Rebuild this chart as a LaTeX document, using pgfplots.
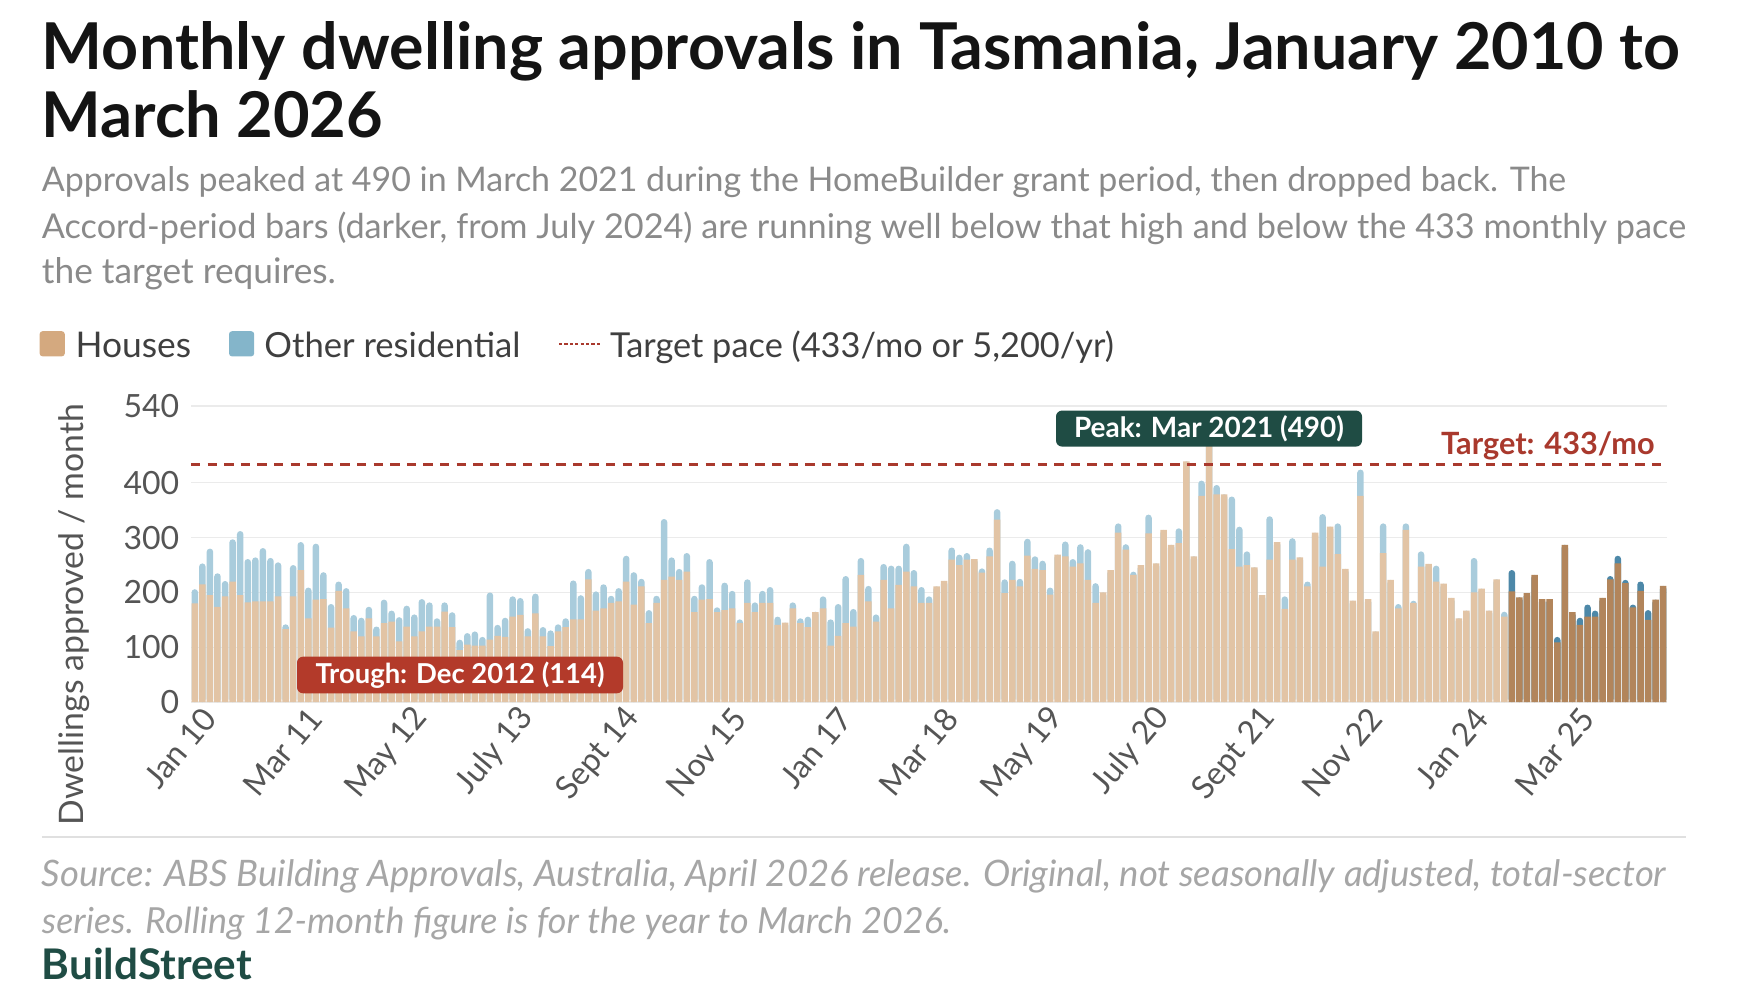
\documentclass[border=0pt]{standalone}
\usepackage{pgfplots}
\pgfplotsset{compat=1.18}
\usepackage{pgfplotstable}
\usepackage{graphicx}
\usepackage{fontspec}
\setmainfont{Lato}
\definecolor{titlec}{HTML}{141414}
\definecolor{subc}{HTML}{8A8A8A}
\definecolor{legc}{HTML}{3F3F3F}
\definecolor{tickc}{HTML}{555555}
\definecolor{gridc}{HTML}{EBEBEB}
\definecolor{houseL}{HTML}{E2C4A5}
\definecolor{otherL}{HTML}{A9CCDC}
\definecolor{houseD}{HTML}{B2855B}
\definecolor{otherD}{HTML}{4D88A8}
\definecolor{houseLeg}{HTML}{D4A97F}
\definecolor{otherLeg}{HTML}{84B5CA}
\definecolor{targetc}{HTML}{A9392D}
\definecolor{troughc}{HTML}{B33A2A}
\definecolor{peakc}{HTML}{1F4C44}
\definecolor{sourcec}{HTML}{A6A6A6}
\definecolor{sepc}{HTML}{E0E0E0}
\newcommand\fit[2]{\resizebox{#1}{!}{#2}}

\pgfplotstableread{
x tot hou
0 206 180
1 253 215
2 280 195
3 235 174
4 221 193
5 297 220
6 312 195
7 261 182
8 264 184
9 281 184
10 263 184
11 255 193
12 142 133
13 250 193
14 292 241
15 209 153
16 289 187
17 237 188
18 179 136
19 220 203
20 208 171
21 159 129
22 154 120
23 174 153
24 138 120
25 187 144
26 167 147
27 155 111
28 176 138
29 160 120
30 188 129
31 182 138
32 153 138
33 182 165
34 164 137
35 114 95
36 126 105
37 129 103
38 119 103
39 200 114
40 141 121
41 154 119
42 193 156
43 190 159
44 135 120
45 198 162
46 137 120
47 131 102
48 142 129
49 153 137
50 222 151
51 195 151
52 243 224
53 202 167
54 215 171
55 194 181
56 208 184
57 267 220
58 237 178
59 225 211
60 168 144
61 194 181
62 334 223
63 264 229
64 243 223
65 272 238
66 194 164
67 215 187
68 261 188
69 173 164
70 218 168
71 203 171
72 151 144
73 224 181
74 182 164
75 203 181
76 210 181
77 156 141
78 145 145
79 182 171
80 153 144
81 156 137
82 165 164
83 193 171
84 151 103
85 179 121
86 230 144
87 170 138
88 263 232
89 212 184
90 160 147
91 252 223
92 249 171
93 249 214
94 289 238
95 241 211
96 210 181
97 193 181
98 211 211
99 221 221
100 282 260
101 269 250
102 272 260
103 261 261
104 244 236
105 282 266
106 352 333
107 224 199
108 258 223
109 225 211
110 298 267
111 266 243
112 258 241
113 209 196
114 269 269
115 293 266
116 261 247
117 288 253
118 279 223
119 217 181
120 200 200
121 241 241
122 326 309
123 288 278
124 238 232
125 250 250
126 342 308
127 253 253
128 314 314
129 287 287
130 317 290
131 439 439
132 266 266
133 404 376
134 490 490
135 396 379
136 379 379
137 375 279
138 320 247
139 275 250
140 246 246
141 195 195
142 339 260
143 292 292
144 193 170
145 299 260
146 264 264
147 220 211
148 309 309
149 343 247
150 320 320
151 326 270
152 243 243
153 185 185
154 424 376
155 188 188
156 129 129
157 326 272
158 223 223
159 179 171
160 326 314
161 185 181
162 275 247
163 252 252
164 249 220
165 216 216
166 190 190
167 153 153
168 167 167
169 263 200
170 207 207
171 167 167
172 224 224
173 165 156
}\light

\pgfplotstableread{
x tot hou
174 241 202
175 191 191
176 199 199
177 232 232
178 188 188
179 188 188
180 119 109
181 287 287
182 164 164
183 154 141
184 178 156
185 167 156
186 190 190
187 230 224
188 267 253
189 223 217
190 178 173
191 220 203
192 168 150
193 187 187
194 212 212
}\dark

\begin{document}
\begin{tikzpicture}
\path[use as bounding box] (0,0) rectangle (880pt,500pt);

% Title
\node[anchor=base west, inner sep=0, text=titlec] at (20.75pt,465.2pt) {\fit{819pt}{\bfseries Monthly dwelling approvals in Tasmania, January 2010 to}};
\node[anchor=base west, inner sep=0, text=titlec] at (20.75pt,431pt) {\fit{170.6pt}{\bfseries March 2026}};
% Subtitle
\node[anchor=base west, inner sep=0, text=subc] at (20.75pt,404pt) {\fit{762pt}{Approvals peaked at 490 in March 2021 during the HomeBuilder grant period, then dropped back. The}};
\node[anchor=base west, inner sep=0, text=subc] at (20.75pt,380.5pt) {\fit{822pt}{Accord-period bars (darker, from July 2024) are running well below that high and below the 433 monthly pace}};
\node[anchor=base west, inner sep=0, text=subc] at (20.75pt,358pt) {\fit{147pt}{the target requires.}};

% Legend
\fill[houseLeg, rounded corners=1.5pt] (19.8pt,321.8pt) rectangle (32.4pt,334.4pt);
\node[anchor=base west, inner sep=0, text=legc] at (37.6pt,321pt) {\fit{57.8pt}{Houses}};
\fill[otherLeg, rounded corners=1.5pt] (114.5pt,321.8pt) rectangle (127.1pt,334.4pt);
\node[anchor=base west, inner sep=0, text=legc] at (132pt,321pt) {\fit{128pt}{Other residential}};
\draw[targetc, line width=1.1pt, dash pattern=on 1.6pt off 1.1pt] (279.5pt,328pt) -- (300pt,328pt);
\node[anchor=base west, inner sep=0, text=legc] at (304.8pt,321pt) {\fit{252pt}{Target pace (433/mo or 5,200/yr)}};

% Y label
\node[rotate=90, inner sep=0, text=tickc] at (37.3pt,192.7pt) {\fit{210.5pt}{Dwellings approved / month}};

\begin{axis}[
  at={(95.5pt,148.9pt)}, anchor=south west,
  scale only axis, width=738pt, height=148.1pt,
  xmin=-0.5, xmax=194.5, ymin=0, ymax=540,
  ytick={0,100,200,300,400,540},
  xtick={0,14,...,182},
  xticklabels={Jan 10,Mar 11,May 12,July 13,Sept 14,Nov 15,Jan 17,Mar 18,May 19,July 20,Sept 21,Nov 22,Jan 24,Mar 25},
  axis line style={draw=none},
  major tick length=0pt,
  ymajorgrids, grid style={color=gridc, line width=0.7pt},
  ybar, bar width=3.25pt, bar shift=0pt,
  /pgf/number format/assume math mode=true,
  tick label style={color=tickc, font=\fontsize{16}{17}\selectfont},
  yticklabel style={anchor=east, inner sep=0pt, xshift=-5.7pt},
  xticklabel style={rotate=50, anchor=east, inner sep=0pt, xshift=1pt, yshift=-9pt},
  clip=false,
]
\addplot[draw=none, fill=otherL, rounded corners=1.6pt] table[x=x,y=tot]{\light};
\addplot[draw=none, fill=houseL] table[x=x,y=hou]{\light};
\addplot[draw=none, fill=otherD, rounded corners=1.6pt] table[x=x,y=tot]{\dark};
\addplot[draw=none, fill=houseD] table[x=x,y=hou]{\dark};
\addplot[sharp plot, targetc, line width=1.5pt, dash pattern=on 4.7pt off 3.6pt] coordinates {(-0.5,433) (194.5,433)};
\end{axis}

% Annotations
\node[fill=troughc, rounded corners=3pt, minimum width=163pt, minimum height=18.3pt, inner sep=0, text=white] at (230pt,162.5pt) {\fit{144.5pt}{\bfseries Trough: Dec 2012 (114)}};
\node[fill=peakc, rounded corners=3pt, minimum width=153pt, minimum height=18pt, inner sep=0, text=white] at (604.5pt,285.7pt) {\fit{135pt}{\bfseries Peak: Mar 2021 (490)}};
\node[anchor=base east, inner sep=0, text=targetc] at (827.5pt,272.5pt) {\fit{106.7pt}{\bfseries Target: 433/mo}};

% Separator and footer
\draw[sepc, line width=1pt] (20.75pt,81.3pt) -- (843pt,81.3pt);
\node[anchor=base west, inner sep=0, text=sourcec] at (20.75pt,56.6pt) {\fit{812pt}{\itshape Source: ABS Building Approvals, Australia, April 2026 release. Original, not seasonally adjusted, total-sector}};
\node[anchor=base west, inner sep=0, text=sourcec] at (20.75pt,33.1pt) {\fit{454.5pt}{\itshape series. Rolling 12-month figure is for the year to March 2026.}};
\node[anchor=base west, inner sep=0, text=peakc] at (20.75pt,10pt) {\fit{105pt}{\bfseries BuildStreet}};
\end{tikzpicture}
\end{document}
